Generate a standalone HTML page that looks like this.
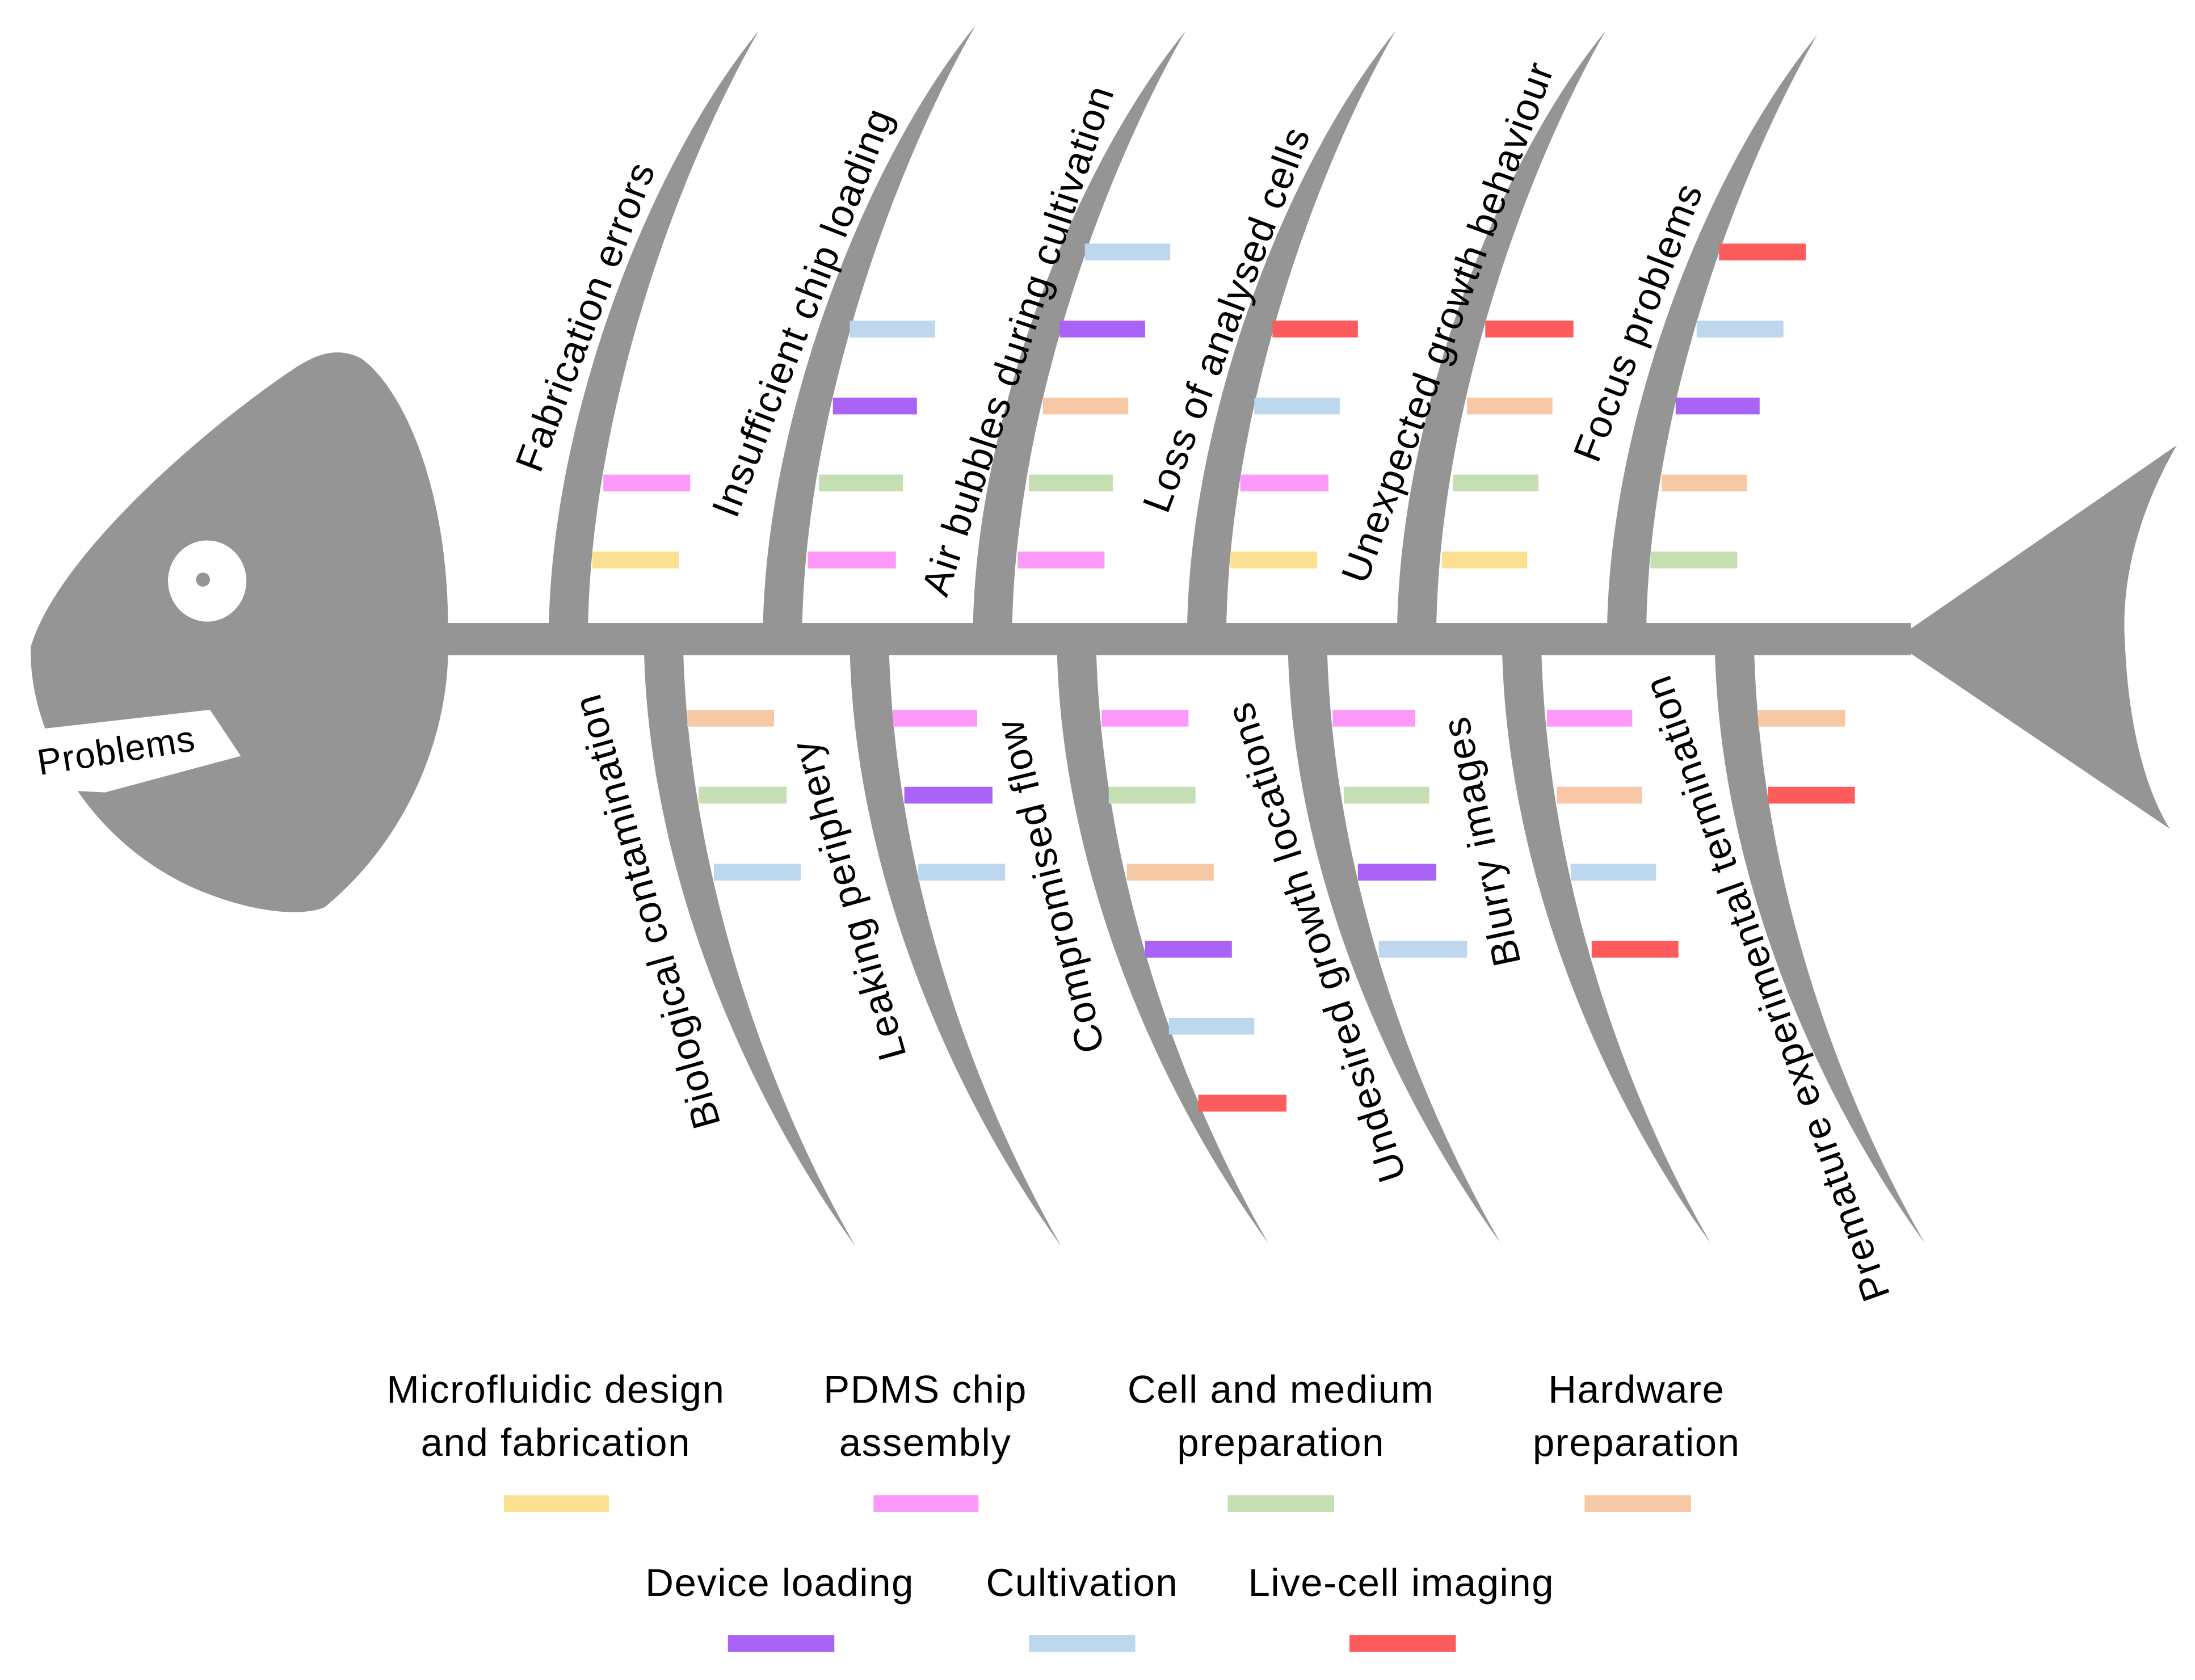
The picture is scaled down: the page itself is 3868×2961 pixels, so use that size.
<!DOCTYPE html>
<html><head><meta charset="utf-8"><style>
html,body{margin:0;padding:0;background:#fff;}
svg{display:block;}
text{font-family:"Liberation Sans",Arial,sans-serif;fill:#000;}
</style></head><body>
<svg width="3868" height="2961" viewBox="0 0 1568 1200" preserveAspectRatio="none" xmlns="http://www.w3.org/2000/svg">
<g fill="#959595">
<rect x="300" y="445" width="1065" height="23"/>
<path d="M320,440 C318,340 285,275 258,256 C242,248 228,252 212,262 C140,310 40,400 22,462 C20,520 60,600 140,635 C180,652 215,655 232,648 C290,600 318,530 320,470 Z"/>
<path d="M1352,458 L1555,318 C1525,370 1515,420 1518,460 C1520,510 1530,560 1550,592 Z"/>
<path d="M392,450 C394,300 462,120 542,22 C480,130 422,300 420,450 Z"/>
<path d="M545,450 C547,300 617,116 697,18 C635,126 575,300 573,450 Z"/>
<path d="M695,450 C697,300 767,120 847,22 C785,130 725,300 723,450 Z"/>
<path d="M848,450 C850,300 917,120 997,22 C935,130 878,300 876,450 Z"/>
<path d="M998,450 C1000,300 1067,120 1147,22 C1085,130 1028,300 1026,450 Z"/>
<path d="M1148,450 C1150,300 1218,123 1298,25 C1236,133 1178,300 1176,450 Z"/>
<path d="M460,462 C463,620 531,780 611,890 C545,775 492,620 488,462 Z"/>
<path d="M607,462 C610,620 678,780 758,890 C692,775 639,620 635,462 Z"/>
<path d="M755,462 C758,620 826,778 906,888 C840,773 787,620 783,462 Z"/>
<path d="M920,462 C923,620 992,778 1072,888 C1006,773 952,620 948,462 Z"/>
<path d="M1073,462 C1076,620 1142,778 1222,888 C1156,773 1105,620 1101,462 Z"/>
<path d="M1225,462 C1228,620 1295,778 1375,888 C1309,773 1257,620 1253,462 Z"/>
</g>
<ellipse cx="148" cy="415" rx="28" ry="29" fill="#fff"/>
<circle cx="145" cy="414" r="5" fill="#959595"/>
<polygon points="0,524 150,507 172,540 75,566 0,562" fill="#fff"/>
<text x="83" y="536" font-size="26" text-anchor="middle" dominant-baseline="central" letter-spacing="0.5" transform="rotate(-9 83 536)">Problems</text>

<g>
<rect x="431" y="339" width="62" height="12" fill="#fd99fb"/>
<rect x="423" y="394" width="62" height="12" fill="#fbe18f"/>
<rect x="607" y="229" width="61" height="12" fill="#bdd7ee"/>
<rect x="595" y="284" width="60" height="12" fill="#a964f7"/>
<rect x="585" y="339" width="60" height="12" fill="#c5dfb3"/>
<rect x="577" y="394" width="63" height="12" fill="#fd99fb"/>
<rect x="775" y="174" width="61" height="12" fill="#bdd7ee"/>
<rect x="757" y="229" width="61" height="12" fill="#a964f7"/>
<rect x="745" y="284" width="61" height="12" fill="#f6c8a5"/>
<rect x="735" y="339" width="60" height="12" fill="#c5dfb3"/>
<rect x="727" y="394" width="62" height="12" fill="#fd99fb"/>
<rect x="909" y="229" width="61" height="12" fill="#fe5c5c"/>
<rect x="896" y="284" width="61" height="12" fill="#bdd7ee"/>
<rect x="886" y="339" width="63" height="12" fill="#fd99fb"/>
<rect x="879" y="394" width="62" height="12" fill="#fbe18f"/>
<rect x="1061" y="229" width="63" height="12" fill="#fe5c5c"/>
<rect x="1048" y="284" width="61" height="12" fill="#f6c8a5"/>
<rect x="1038" y="339" width="61" height="12" fill="#c5dfb3"/>
<rect x="1030" y="394" width="61" height="12" fill="#fbe18f"/>
<rect x="1228" y="174" width="62" height="12" fill="#fe5c5c"/>
<rect x="1212" y="229" width="62" height="12" fill="#bdd7ee"/>
<rect x="1197" y="284" width="60" height="12" fill="#a964f7"/>
<rect x="1187" y="339" width="61" height="12" fill="#f6c8a5"/>
<rect x="1179" y="394" width="62" height="12" fill="#c5dfb3"/>
</g>
<g>
<rect x="491" y="507" width="62" height="12" fill="#f6c8a5"/>
<rect x="499" y="562" width="63" height="12" fill="#c5dfb3"/>
<rect x="510" y="617" width="62" height="12" fill="#bdd7ee"/>
<rect x="638" y="507" width="60" height="12" fill="#fd99fb"/>
<rect x="646" y="562" width="63" height="12" fill="#a964f7"/>
<rect x="656" y="617" width="62" height="12" fill="#bdd7ee"/>
<rect x="787" y="507" width="62" height="12" fill="#fd99fb"/>
<rect x="792" y="562" width="62" height="12" fill="#c5dfb3"/>
<rect x="805" y="617" width="62" height="12" fill="#f6c8a5"/>
<rect x="818" y="672" width="62" height="12" fill="#a964f7"/>
<rect x="835" y="727" width="61" height="12" fill="#bdd7ee"/>
<rect x="856" y="782" width="63" height="12" fill="#fe5c5c"/>
<rect x="952" y="507" width="59" height="12" fill="#fd99fb"/>
<rect x="960" y="562" width="61" height="12" fill="#c5dfb3"/>
<rect x="970" y="617" width="56" height="12" fill="#a964f7"/>
<rect x="985" y="672" width="63" height="12" fill="#bdd7ee"/>
<rect x="1105" y="507" width="61" height="12" fill="#fd99fb"/>
<rect x="1112" y="562" width="61" height="12" fill="#f6c8a5"/>
<rect x="1122" y="617" width="61" height="12" fill="#bdd7ee"/>
<rect x="1137" y="672" width="62" height="12" fill="#fe5c5c"/>
<rect x="1256" y="507" width="62" height="12" fill="#f6c8a5"/>
<rect x="1263" y="562" width="62" height="12" fill="#fe5c5c"/>
</g>

<g font-size="28" letter-spacing="0.8" text-anchor="middle" dominant-baseline="central">
<text transform="translate(418,226) rotate(-69.3)">Fabrication errors</text>
<text transform="translate(573,223) rotate(-68.8)">Insufficient chip loading</text>
<text transform="translate(727,243) rotate(-71.7)">Air bubbles during cultivation</text>
<text transform="translate(876,228) rotate(-69.4)">Loss of analysed cells</text>
<text transform="translate(1034,230) rotate(-70)">Unexpected growth behaviour</text>
<text transform="translate(1170,230) rotate(-69)">Focus problems</text>
<text transform="translate(462,651) rotate(-105.7)">Biological contamination</text>
<text transform="translate(606,643) rotate(-105.8)">Leaking periphery</text>
<text transform="translate(750,633) rotate(-104)">Compromised flow</text>
<text transform="translate(940,673) rotate(-108)">Undesired growth locations</text>
<text transform="translate(1058,601) rotate(-102)">Blurry images</text>
<text transform="translate(1262,706) rotate(-109.6)">Premature experimental termination</text>
</g>

<g font-size="28" letter-spacing="0.6" text-anchor="middle">
<text x="397" y="1002">Microfluidic design</text>
<text x="397" y="1040">and fabrication</text>
<text x="661" y="1002">PDMS chip</text>
<text x="661" y="1040">assembly</text>
<text x="915" y="1002">Cell and medium</text>
<text x="915" y="1040">preparation</text>
<text x="1169" y="1002">Hardware</text>
<text x="1169" y="1040">preparation</text>
<text x="557" y="1140">Device loading</text>
<text x="773" y="1140">Cultivation</text>
<text x="1001" y="1140">Live-cell imaging</text>
</g>
<rect x="360" y="1068" width="75" height="12" fill="#fbe18f"/>
<rect x="624" y="1068" width="75" height="12" fill="#fd99fb"/>
<rect x="877" y="1068" width="76" height="12" fill="#c5dfb3"/>
<rect x="1132" y="1068" width="76" height="12" fill="#f6c8a5"/>
<rect x="520" y="1168" width="76" height="12" fill="#a964f7"/>
<rect x="735" y="1168" width="76" height="12" fill="#bdd7ee"/>
<rect x="964" y="1168" width="76" height="12" fill="#fe5c5c"/>
</svg>
</body></html>
